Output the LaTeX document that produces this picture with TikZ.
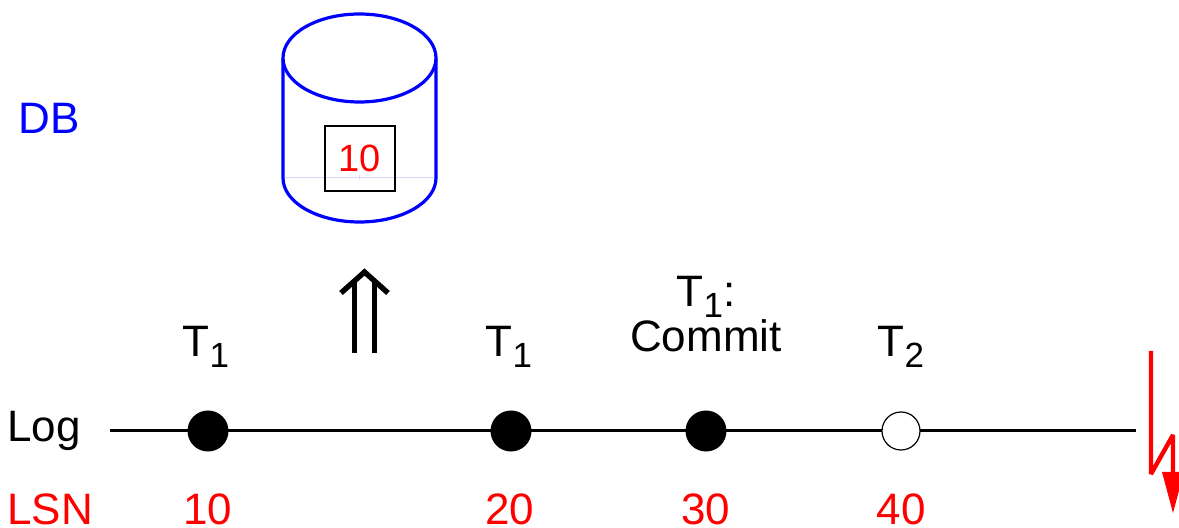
\documentclass[tikz,border=0pt]{standalone}
\usepackage{fontspec}
\setmainfont{Liberation Sans}
\usetikzlibrary{arrows.meta}
\definecolor{faintblue}{RGB}{215,215,255}
\newcommand{\tsub}[1]{T\raisebox{-5.5pt}{\fontsize{17.5}{17.5}\selectfont #1}}
\tikzset{
  event/.style={circle, draw=black, line width=1.5pt, fill=black, minimum size=19pt, inner sep=0pt},
  openevent/.style={event, fill=white, line width=.6pt},
  lbl/.style={font=\fontsize{22}{24}\selectfont, inner sep=0pt, align=center},
  redlbl/.style={lbl, text=red}
}
\begin{document}
\begin{tikzpicture}[x=.5pt, y=-.5pt]
  \useasboundingbox (0,0) rectangle (1179,528);

  % Database cylinder
  \draw[faintblue, line width=.5pt] (283,178) -- (436,178);
  \draw[faintblue, line width=.5pt] (359,175) -- (359,180);
  \draw[blue, line width=1.6pt] (283,59) -- (283,178) arc[start angle=180, end angle=360, x radius=76.5, y radius=-44] -- (436,59);
  \draw[blue, line width=1.6pt] (359.5,58) ellipse[x radius=76.5, y radius=44];
  \node[draw=black, line width=1pt, minimum width=35pt, minimum height=32.5pt, inner sep=0pt, font=\fontsize{19}{20}\selectfont, text=red] (page) at (359.5,158.5) {10};
  \node[lbl, text=blue, anchor=base west] (db) at (18,134) {DB};

  % Double arrow
  \coordinate (arrowA) at (354,353);
  \coordinate (arrowB) at (374.5,353);
  \draw[line width=2.5pt] (arrowA) -- (354,281);
  \draw[line width=2.5pt] (arrowB) -- (374.5,281);
  \draw[line width=2.7pt, miter limit=4] (341,293) -- (364.5,272) -- (388,293);

  % Log line
  \coordinate (logstart) at (110,431);
  \coordinate (logend) at (1136,431);
  \draw[line width=1.5pt] (logstart) -- (logend);

  % Records
  \node[event] (r10) at (208,431) {};
  \node[event] (r20) at (511,431) {};
  \node[event] (r30) at (706,431) {};
  \node[openevent] (r40) at (901,431) {};

  \node[lbl, anchor=base] (t10) at (206,357) {\tsub{1}};
  \node[lbl, anchor=base] (t20) at (509,357) {\tsub{1}};
  \node[lbl, anchor=base] (t30) at (706,307) {\tsub{1}:};
  \node[lbl, anchor=base] (commit) at (706,352) {Commit};
  \node[lbl, anchor=base] (t40) at (901,357) {\tsub{2}};

  \node[lbl, anchor=base west] (log) at (7,442) {Log};
  \node[redlbl, anchor=base west] (lsn) at (7,525) {LSN};
  \node[redlbl, anchor=base] (n10) at (208,525) {10};
  \node[redlbl, anchor=base] (n20) at (510,525) {20};
  \node[redlbl, anchor=base] (n30) at (706,525) {30};
  \node[redlbl, anchor=base] (n40) at (901,525) {40};

  % Crash
  \coordinate (crash) at (1151,351);
  \draw[red, line width=2.2pt, miter limit=3]
    (crash) -- (1151,474) -- (1173,435) -- (1173,474);
  \fill[red] (1162,472) -- (1173,513) -- (1184,472) -- cycle;
\end{tikzpicture}
\end{document}
